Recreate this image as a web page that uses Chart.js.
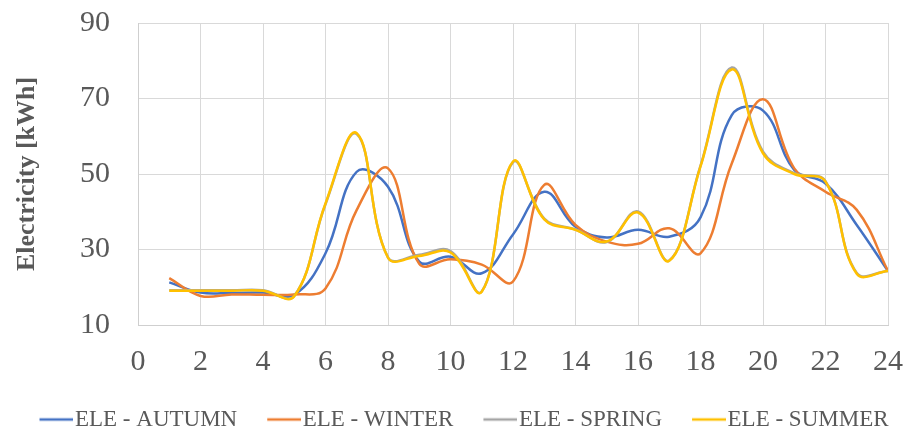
<!DOCTYPE html>
<html>
<head>
<meta charset="utf-8">
<title>Hourly electricity by season</title>
<script src="https://cdn.jsdelivr.net/npm/chart.js@4/dist/chart.umd.min.js"></script>
<style>
  html, body { margin: 0; padding: 0; background: #ffffff; }
  #wrap { width: 908px; height: 431px; }
</style>
</head>
<body>
<div id="wrap"><canvas id="chart" width="908" height="431"></canvas></div>
<script>
// Hour of day
const hours = [1, 2, 3, 4, 5, 6, 7, 8, 9, 10, 11, 12, 13, 14, 15, 16, 17, 18, 19, 20, 21, 22, 23, 24];

// Electricity use per hour [kWh]
const autumn = [21.3, 18.6, 18.5, 18.6, 18.0, 29.0, 50.6, 46.6, 26.8, 28.1, 23.7, 34.0, 45.3, 36.0, 33.2, 35.2, 33.4, 38.5, 65.6, 66.8, 51.1, 47.5, 36.5, 24.3];
const winter = [22.4, 17.7, 18.1, 18.0, 18.1, 19.7, 40.5, 51.5, 26.2, 27.4, 26.0, 21.5, 47.1, 36.5, 32.1, 31.5, 35.6, 29.0, 52.8, 69.8, 51.5, 45.3, 40.5, 24.3];
const spring = [19.2, 19.2, 19.2, 19.2, 17.7, 42.0, 60.6, 27.9, 28.6, 29.6, 18.9, 53.1, 38.2, 35.3, 32.0, 40.1, 27.1, 52.2, 78.2, 55.9, 50.2, 48.1, 23.8, 24.3];
const summer = [19.1, 19.1, 19.1, 19.1, 17.6, 42.2, 60.8, 27.8, 28.3, 29.2, 18.8, 53.3, 38.0, 35.2, 32.1, 39.8, 27.0, 52.0, 77.7, 55.5, 50.0, 48.0, 23.6, 24.3];

const seriesNames = ['ELE - AUTUMN', 'ELE - WINTER', 'ELE - SPRING', 'ELE - SUMMER'];
const seriesColors = ['#4472C4', '#ED7D31', '#A5A5A5', '#FFC000'];

// Axis ticks
const xTicks = { min: 0, max: 24, step: 2 };
const yTicks = { min: 10, max: 90, step: 20 };

const textColor = '#595959';
const gridColor = '#D9D9D9';
Chart.defaults.font.family = "'Liberation Serif', 'Times New Roman', serif";

// Legend swatch: a short line sitting just left of the label text
function swatch(color) {
  const c = document.createElement('canvas');
  c.width = 64; c.height = 6;
  const g = c.getContext('2d');
  g.fillStyle = color;
  g.fillRect(30, 1.75, 34, 2.5);
  return c;
}
const swatches = seriesColors.map(swatch);

const values = [autumn, winter, spring, summer];
const datasets = values.map((v, i) => ({
  label: seriesNames[i],
  data: v,
  borderColor: seriesColors[i],
  backgroundColor: seriesColors[i],
  borderWidth: 2.5,
  pointRadius: 0,
  pointHoverRadius: 0,
  tension: 0.4,
  fill: false,
  order: values.length - i   // later series drawn on top
}));

new Chart(document.getElementById('chart'), {
  type: 'line',
  data: { labels: hours, datasets },
  options: {
    responsive: false,
    animation: false,
    events: [],
    layout: { padding: { left: 0, right: 0, top: 0, bottom: -10 } },
    plugins: {
      tooltip: { enabled: false },
      legend: {
        position: 'bottom',
        align: 'center',
        labels: {
          color: textColor,
          font: { size: 23 },
          usePointStyle: true,
          pointStyleWidth: 44,
          boxWidth: 44,
          boxHeight: 23,
          padding: 10,
          generateLabels(chart) {
            const items = Chart.defaults.plugins.legend.labels.generateLabels(chart);
            items.forEach(it => { it.pointStyle = swatches[it.datasetIndex]; });
            return items.sort((a, b) => a.datasetIndex - b.datasetIndex);
          }
        }
      }
    },
    scales: {
      x: {
        type: 'linear',
        min: xTicks.min,
        max: xTicks.max,
        grid: { color: gridColor, lineWidth: 1, drawTicks: false },
        border: { color: '#CFCFCF', width: 1 },
        ticks: {
          stepSize: xTicks.step,
          color: textColor,
          font: { size: 30 },
          padding: 19,
          maxRotation: 0,
          autoSkip: false
        },
        afterFit(scale) {
          scale.height = 73;
          scale.paddingRight = 20;
        }
      },
      y: {
        min: yTicks.min,
        max: yTicks.max,
        grid: { color: gridColor, lineWidth: 1, drawTicks: false },
        border: { color: '#CFCFCF', width: 1 },
        ticks: {
          stepSize: yTicks.step,
          color: textColor,
          font: { size: 30 },
          padding: 28
        },
        title: {
          display: true,
          text: 'Electricity [kWh]',
          color: textColor,
          font: { size: 26, weight: 'bold' },
          padding: { top: 12, bottom: 0 }
        },
        afterFit(scale) {
          scale.width = 138;
          scale.paddingTop = 23;
          scale.paddingBottom = 0;
        }
      }
    }
  }
});
</script>
</body>
</html>
